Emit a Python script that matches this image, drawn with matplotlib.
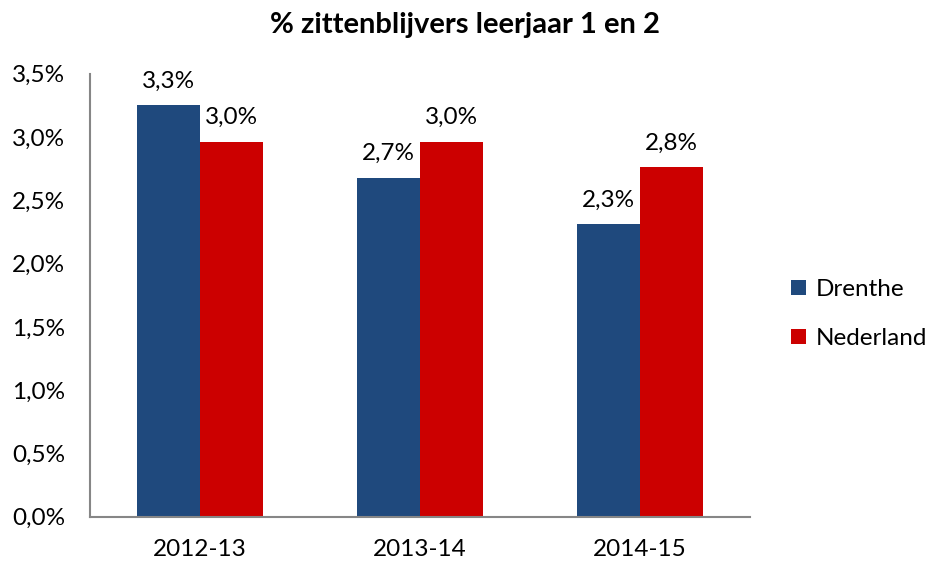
import matplotlib.pyplot as plt
import numpy as np
from matplotlib.ticker import FuncFormatter

# data
years = ['2012-13', '2013-14', '2014-15']
drenthe = [3.25, 2.68, 2.31]
nederland = [2.96, 2.96, 2.76]
drenthe_labels = ['3,3%', '2,7%', '2,3%']
nederland_labels = ['3,0%', '3,0%', '2,8%']

plt.rcParams['font.family'] = ['Lato', 'DejaVu Sans']
fs = 17.5

fig = plt.figure(figsize=(9.3, 5.63), dpi=100)
ax = fig.add_axes([0.097, 0.082, 0.709, 0.787])

x = np.arange(len(years))
w = 0.286
b1 = ax.bar(x - w / 2, drenthe, w, color='#1F497D', label='Drenthe')
b2 = ax.bar(x + w / 2, nederland, w, color='#CC0000', label='Nederland')

for bar, lab in zip(b1, drenthe_labels):
    ax.annotate(lab, (bar.get_x() + bar.get_width() / 2, bar.get_height()),
                xytext=(0, 10), textcoords='offset points',
                ha='center', va='bottom', fontsize=fs)
for bar, lab in zip(b2, nederland_labels):
    ax.annotate(lab, (bar.get_x() + bar.get_width() / 2, bar.get_height()),
                xytext=(0, 10), textcoords='offset points',
                ha='center', va='bottom', fontsize=fs)

ax.set_xlim(-0.5, 2.5)
ax.set_ylim(0, 3.5)
ax.set_yticks(np.arange(0, 3.51, 0.5))
ax.yaxis.set_major_formatter(FuncFormatter(lambda v, p: f'{v:.1f}%'.replace('.', ',')))
ax.set_xticks(x)
ax.set_xticklabels(years)
ax.tick_params(axis='both', length=0, labelsize=fs)
ax.tick_params(axis='x', pad=16)
ax.tick_params(axis='y', pad=18)

for s in ['top', 'right']:
    ax.spines[s].set_visible(False)
for s in ['left', 'bottom']:
    ax.spines[s].set_color('#868686')
    ax.spines[s].set_linewidth(1.5)

fig.text(0.5, 0.955, '% zittenblijvers leerjaar 1 en 2', ha='center', va='center',
         fontsize=21, fontweight='bold')

fig.legend(loc='center left', bbox_to_anchor=(0.827, 0.442), frameon=False,
           fontsize=fs, handlelength=0.6, handleheight=0.6, handletextpad=0.4,
           labelspacing=1.15)

fig.savefig('out.png', dpi=100)
